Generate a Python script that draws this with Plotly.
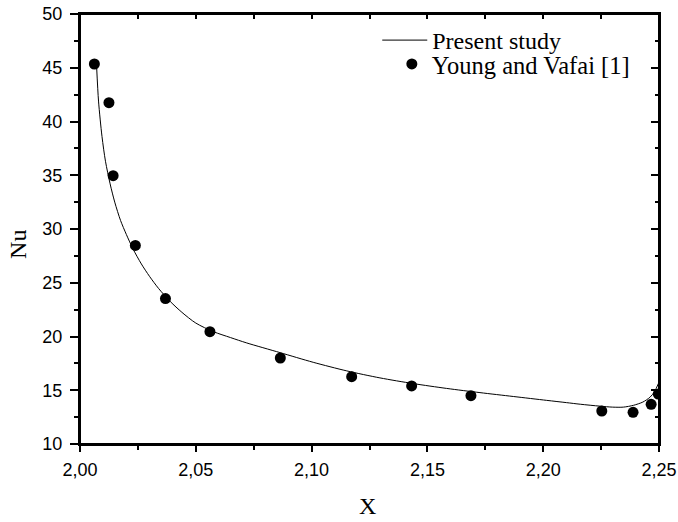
import plotly.graph_objects as go

# Present study (continuous curve)
line_x = [2.0072, 2.0080, 2.0095, 2.0110, 2.0130, 2.0150, 2.0175, 2.0200, 2.0230, 2.0265,
          2.0300, 2.0340, 2.0390, 2.0440, 2.0500, 2.0576, 2.0650, 2.0720, 2.0864, 2.1007,
          2.1152, 2.1295, 2.1439, 2.1583, 2.1727, 2.1871, 2.2015, 2.2100, 2.2160, 2.2245,
          2.2300, 2.2346, 2.2390, 2.2430, 2.2461, 2.2480, 2.2500]
line_y = [45.0, 41.9, 38.6, 36.3, 34.2, 32.5, 30.8, 29.5, 28.1, 26.75,
          25.6, 24.45, 23.25, 22.25, 21.25, 20.45, 19.9, 19.4, 18.5, 17.6,
          16.8, 16.15, 15.62, 15.17, 14.78, 14.42, 14.06, 13.85, 13.70, 13.52,
          13.43, 13.43, 13.6, 13.9, 14.35, 14.85, 15.75]

# Young and Vafai [1] (points)
pts_x = [2.0062, 2.0125, 2.0143, 2.0239, 2.0369, 2.0561, 2.0865, 2.1173, 2.1432, 2.1688,
         2.2253, 2.2388, 2.2466, 2.2497]
pts_y = [45.35, 41.75, 34.96, 28.47, 23.53, 20.45, 18.0, 16.26, 15.40, 14.50,
         13.07, 12.95, 13.69, 14.65]

x_range = [2.0, 2.25]
y_range = [10, 50]

fig = go.Figure()
fig.add_trace(go.Scatter(x=line_x, y=line_y, mode="lines", name="Present study",
                         line=dict(color="black", width=1, shape="spline", smoothing=0.8),
                         legend="legend"))
fig.add_trace(go.Scatter(x=pts_x, y=pts_y, mode="markers", name="Young and Vafai [1]",
                         marker=dict(color="black", size=11, symbol="circle"),
                         legend="legend2"))
# helper traces for the top / right tick axes
fig.add_trace(go.Scatter(x=x_range, y=y_range, xaxis="x2", yaxis="y", mode="lines",
                         line=dict(width=0, color="rgba(0,0,0,0)"), showlegend=False, hoverinfo="skip"))
fig.add_trace(go.Scatter(x=x_range, y=y_range, xaxis="x", yaxis="y2", mode="lines",
                         line=dict(width=0, color="rgba(0,0,0,0)"), showlegend=False, hoverinfo="skip"))

tick_font = dict(family="Liberation Sans, Arial", size=18, color="black")
serif = "Liberation Serif, Times New Roman"

fig.update_layout(
    width=678, height=522, autosize=False,
    margin=dict(l=80, r=19, t=14, b=78, autoexpand=False),
    plot_bgcolor="white", paper_bgcolor="white",
    separators=",.",
    xaxis=dict(range=x_range, dtick=0.05, tick0=2.0, tickformat=".2f", automargin=False,
               showgrid=False, zeroline=False, showline=True, mirror=True,
               linecolor="black", linewidth=2,
               ticks="outside", ticklen=6, tickwidth=1.5, tickcolor="black",
               tickfont=tick_font, ticklabelstandoff=2,
               minor=dict(dtick=0.025, ticks="outside", ticklen=4, tickwidth=1.5, tickcolor="black", showgrid=False)),
    yaxis=dict(range=y_range, dtick=5, tick0=10, automargin=False,
               showgrid=False, zeroline=False, showline=True, mirror=True,
               linecolor="black", linewidth=2,
               ticks="outside", ticklen=8, tickwidth=1.5, tickcolor="black",
               tickfont=tick_font, ticklabelstandoff=4,
               minor=dict(dtick=2.5, ticks="outside", ticklen=4, tickwidth=1.5, tickcolor="black", showgrid=False)),
    xaxis2=dict(range=x_range, dtick=0.05, tick0=2.0, overlaying="x", side="top", anchor="y",
                automargin=False, showgrid=False, zeroline=False, showline=False,
                ticks="inside", ticklen=5, tickwidth=1.5, tickcolor="black", showticklabels=False,
                minor=dict(dtick=0.025, ticks="inside", ticklen=5, tickwidth=1.5, tickcolor="black", showgrid=False)),
    yaxis2=dict(range=y_range, dtick=5, tick0=10, overlaying="y", side="right", anchor="x",
                automargin=False, showgrid=False, zeroline=False, showline=False,
                ticks="inside", ticklen=8, tickwidth=1.5, tickcolor="black", showticklabels=False,
                minor=dict(dtick=2.5, ticks="inside", ticklen=4, tickwidth=1.5, tickcolor="black", showgrid=False)),
    legend=dict(x=0.5134, y=0.9907, xanchor="left", yanchor="top", bgcolor="rgba(0,0,0,0)",
                font=dict(family=serif, size=24, color="black"), itemwidth=45, borderwidth=0),
    legend2=dict(x=0.5386, y=0.936, xanchor="left", yanchor="top", bgcolor="rgba(0,0,0,0)",
                 font=dict(family=serif, size=24.5, color="black"), borderwidth=0),
    shapes=[dict(type="rect", xref="paper", yref="paper", x0=0, x1=1, y0=0, y1=1,
                 line=dict(color="black", width=2), fillcolor="rgba(0,0,0,0)", layer="above")],
    annotations=[
        dict(text="Nu", x=-0.107, y=0.463, xref="paper", yref="paper", showarrow=False,
             textangle=-90, xanchor="center", yanchor="middle",
             font=dict(family=serif, size=24, color="black")),
        dict(text="X", x=0.497, y=-0.144, xref="paper", yref="paper", showarrow=False,
             xanchor="center", yanchor="middle",
             font=dict(family=serif, size=24, color="black")),
    ],
    showlegend=True,
)

fig.write_html("out.html")
